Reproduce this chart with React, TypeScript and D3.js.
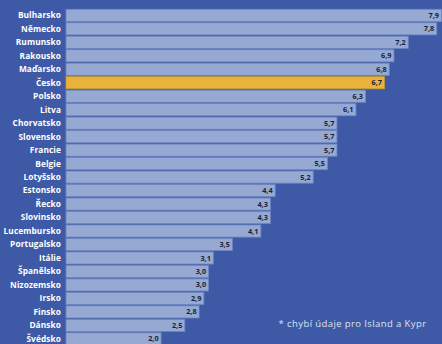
import React from "react";
import * as d3 from "d3";

const countries = ["Bulharsko","Německo","Rumunsko","Rakousko","Maďarsko","Česko","Polsko","Litva","Chorvatsko","Slovensko","Francie","Belgie","Lotyšsko","Estonsko","Řecko","Slovinsko","Lucembursko","Portugalsko","Itálie","Španělsko","Nizozemsko","Irsko","Finsko","Dánsko","Švédsko"];
const values = [7.9,7.8,7.2,6.9,6.8,6.7,6.3,6.1,5.7,5.7,5.7,5.5,5.2,4.4,4.3,4.3,4.1,3.5,3.1,3.0,3.0,2.9,2.8,2.5,2.0];
const highlight = "Česko";
const footnote = "* chybí údaje pro Island a Kypr";

const W = 442, H = 344;

export default function App() {
  const x = d3.scaleLinear().domain([0, 7.9]).range([66, 441.5]);
  const y = d3.scaleBand().domain(countries).range([8.6, 8.6 + 13.48 * 25]).paddingInner(0.1).paddingOuter(0.05);
  const fmt = (v: number) => v.toFixed(1).replace(".", ",");
  return (
    <div style={{ position: "fixed", left: 0, top: 0 }}>
      <svg width={W} height={H} style={{ display: "block" }}>
        <rect width={W} height={H} fill="#3e5aa6" />
        {countries.map((c, i) => {
          const v = values[i];
          const yy = y(c)!;
          const bh = y.bandwidth();
          const hl = c === highlight;
          return (
            <g key={c}>
              <rect x={x(0)} y={yy} width={x(v) - x(0)} height={bh}
                fill={hl ? "#e8b23b" : "#95a9d3"} stroke={hl ? "#c99a30" : "#6f86c2"} strokeWidth={0.8} />
              <text x={61} y={yy + bh / 2} dy="0.35em" textAnchor="end" fill="#ffffff"
                fontFamily="Open Sans, sans-serif" fontWeight={700} fontSize={8.3} letterSpacing={0.1}>{c}</text>
              <text x={x(v) - 2.5} y={yy + bh / 2} dy="0.35em" textAnchor="end" fill="#1b2236"
                fontFamily="Open Sans, sans-serif" fontWeight={700} fontSize={7.3}>{fmt(v)}</text>
            </g>
          );
        })}
        <text x={426.5} y={327.3} textAnchor="end" fill="#dde3f2" fontFamily="Open Sans, sans-serif" fontSize={9.5} letterSpacing={0.4}>{footnote}</text>
      </svg>
    </div>
  );
}
